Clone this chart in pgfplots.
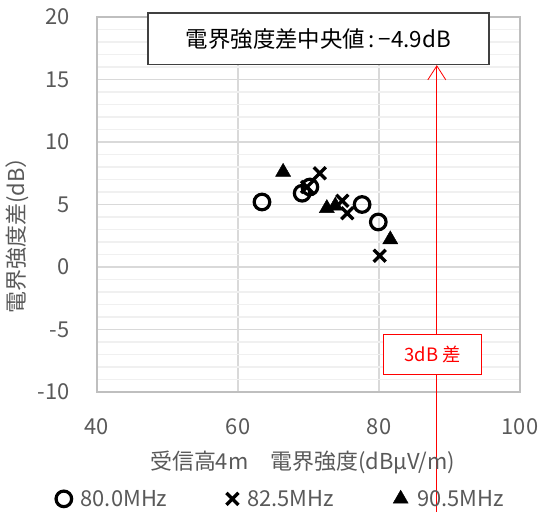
\documentclass[border=0pt]{standalone}
\usepackage{pgfplots}
\pgfplotsset{compat=1.18}
\usepackage{fontspec}
\setmainfont{Noto Sans CJK JP}
\usetikzlibrary{arrows.meta}
\definecolor{txt}{HTML}{595959}
\definecolor{gmaj}{HTML}{D9D9D9}
\definecolor{gmin}{HTML}{F0F0F0}
\definecolor{frame}{HTML}{BFBFBF}
\begin{document}
\begin{tikzpicture}
\path[use as bounding box] (0,0) rectangle (538bp,512bp);
\begin{axis}[
  at={(97bp,120bp)}, anchor=south west,
  scale only axis, width=423bp, height=375bp,
  xmin=40, xmax=100, ymin=-10, ymax=20,
  xtick={40,60,80,100}, ytick={-10,-5,0,5,10,15,20},
  minor y tick num=4,
  major tick length=0pt, minor tick length=0pt,
  xmajorgrids, ymajorgrids, yminorgrids,
  major grid style={gmaj, line width=1.2bp},
  minor grid style={gmin, line width=1.2bp},
  axis line style={frame, line width=1.2bp},
  /pgf/number format/assume math mode=true,
  tick label style={font=\fontsize{22}{24}\selectfont, text=txt},
  xticklabel style={yshift=-23bp},
  yticklabel style={xshift=-24bp},
  label style={font=\fontsize{22}{24}\selectfont, text=txt},
  xlabel={受信高4m　電界強度(dBμV/m)},
  ylabel={電界強度差(dB）},
  xlabel style={at={(axis description cs:0.486,-0.187)}, anchor=center},
  ylabel style={at={(axis description cs:-0.189,0.432)}, anchor=center},
  clip=false,
  legend columns=3,
  legend style={draw=none, fill=none, at={(0.435,-0.285)}, anchor=center,
    font=\fontsize{22}{24}\selectfont, text=txt,
    /tikz/every odd column/.append style={column sep=7bp},
    /tikz/every even column/.append style={column sep=57bp},
    legend cell align=left, inner sep=0pt},
  legend image code/.code={\draw[#1] plot coordinates {(0.15cm,0cm)};},
]
\addplot[only marks, mark=o, mark size=7.8bp, black, line width=3.2bp] coordinates {
  (63.4,5.2) (69.1,5.9) (70.2,6.4) (77.6,5.0) (79.9,3.6)};
\addlegendentry{80.0MHz}
\addplot[only marks, mark=x, mark size=8.5bp, black, line width=3.4bp] coordinates {
  (71.6,7.5) (69.8,6.4) (74.8,5.3) (75.5,4.3) (80.1,0.9)};
\addlegendentry{82.5MHz}
\addplot[only marks, mark=triangle*, mark size=8.7bp, black] coordinates {
  (66.4,7.6) (72.6,4.7) (73.8,4.9) (81.6,2.2)};
\addlegendentry{90.5MHz}
\draw[red, line width=0.8bp, -{Straight Barb[length=14bp, width=18bp, line width=0.8bp]}] (axis cs:88.2,-19.6) -- (axis cs:88.2,16.15);
\draw[draw=black!75, line width=1.6bp, fill=white] (axis cs:47.2,20.3) rectangle (axis cs:95.6,16.2);
\node[font=\fontsize{22.5}{25}\selectfont, text=black] at (axis cs:71.4,18.25) {電界強度差中央値\,:\,−4.9dB};
\draw[red, line width=0.9bp, fill=white] (axis cs:80.7,-5.4) rectangle (axis cs:94.5,-8.6);
\node[font=\fontsize{18.5}{20}\selectfont, text=red] at (axis cs:87.6,-7.0) {3dB 差};
\end{axis}
\end{tikzpicture}
\end{document}
